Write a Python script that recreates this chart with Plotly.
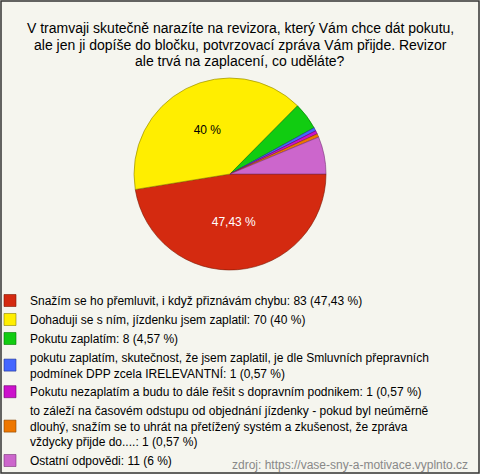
import plotly.graph_objects as go

title_lines = [
    "V tramvaji skutečně narazíte na revizora, který Vám chce dát pokutu,",
    "ale jen ji dopíše do bločku, potvrzovací zpráva Vám přijde. Revizor",
    "ale trvá na zaplacení, co uděláte?",
]
names = [
    "Snažím se ho přemluvit, i když přiznávám chybu",
    "Dohaduji se s ním, jízdenku jsem zaplatil",
    "Pokutu zaplatím",
    "pokutu zaplatím, skutečnost, že jsem zaplatil, je dle Smluvních přepravních<br>podmínek DPP zcela IRELEVANTNÍ",
    "Pokutu nezaplatím a budu to dále řešit s dopravním podnikem",
    "to záleží na časovém odstupu od objednání jízdenky - pokud byl neúměrně<br>dlouhý, snažím se to uhrát na přetížený systém a zkušenost, že zpráva<br>vždycky přijde do....",
    "Ostatní odpovědi",
]
counts = [83, 70, 8, 1, 1, 1, 11]
pct_labels = ["47,43 %", "40 %", "4,57 %", "0,57 %", "0,57 %", "0,57 %", "6 %"]
slice_text = ["47,43 %", "40 %", "", "", "", "", ""]
colors = ["#d42a10", "#ffee00", "#11cc11", "#4466ff", "#cc11cc", "#ee7700", "#cc66cc"]
edge_colors = ["#7a1500", "#8a7f00", "#007700", "#223388", "#660066", "#884400", "#773377"]
source = "zdroj: https://vase-sny-a-motivace.vyplnto.cz"

W, H = 480, 474
FONT = "Liberation Sans, Arial, sans-serif"
legend_labels = [f"{n}: {c} ({p})" for n, c, p in zip(names, counts, pct_labels)]

cx, cy, R = 230, 174, 96

fig = go.Figure(go.Pie(
    labels=legend_labels,
    values=counts,
    text=slice_text,
    textinfo="text",
    textposition="inside",
    insidetextorientation="horizontal",
    insidetextfont=dict(color=["#ffffff", "#000000"] + ["#000000"] * 5, size=12, family=FONT),
    marker=dict(colors=colors, line=dict(color=edge_colors, width=0.6)),
    sort=False,
    direction="clockwise",
    rotation=90,
    hoverinfo="label",
    domain=dict(x=[(cx - R) / W, (cx + R) / W], y=[1 - (cy + R) / H, 1 - (cy - R) / H]),
))

title_ann = [
    dict(text=line, x=0.5, y=1 - yc / H, xref="paper", yref="paper",
         xanchor="center", yanchor="middle", showarrow=False,
         font=dict(size=14, color="#000000"))
    for line, yc in zip(title_lines, [28, 44.5, 61])
]

fig.update_layout(
    width=W, height=H,
    margin=dict(l=0, r=0, t=0, b=0, autoexpand=False),
    paper_bgcolor="#f5f5ee",
    plot_bgcolor="#f5f5ee",
    font=dict(family=FONT, size=12, color="#000000"),
    showlegend=True,
    legend=dict(
        x=-10 / W, y=1 - 286 / H, xanchor="left", yanchor="top",
        bgcolor="rgba(0,0,0,0)", font=dict(size=12),
        itemwidth=30, tracegroupgap=0,
    ),
    annotations=title_ann + [
        dict(text=source, x=1 - 10 / W, y=1 - 465 / H, xref="paper", yref="paper",
             xanchor="right", yanchor="middle", showarrow=False,
             font=dict(size=12, color="#888888")),
    ],
    shapes=[dict(type="rect", xref="paper", yref="paper", x0=1 / W, x1=1 - 1 / W,
                 y0=1 / H, y1=1 - 1 / H, line=dict(color="#333333", width=1.5))],
)

fig.write_html("out.html", config={"displayModeBar": False},
               post_script="document.body.style.margin='0';document.body.style.overflow='hidden';")
